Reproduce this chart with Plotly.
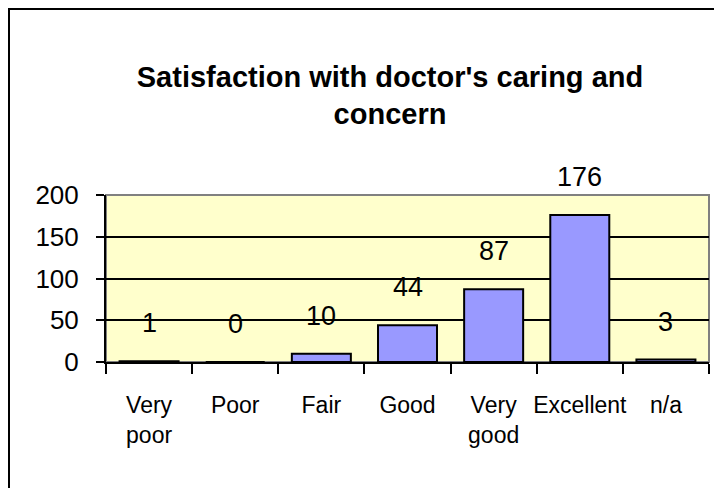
import plotly.graph_objects as go

categories = ["Very<br>poor", "Poor", "Fair", "Good", "Very<br>good", "Excellent", "n/a"]
values = [1, 0, 10, 44, 87, 176, 3]
y_ticks = [0, 50, 100, 150, 200]
title_text = "Satisfaction with doctor's caring and<br>concern"

FONT = "Liberation Sans, Arial, sans-serif"
W, H = 714, 480
L, R, T, B = 98, 13, 187, 126
PW, PH = W - L - R, H - T - B

fig = go.Figure()
fig.add_trace(go.Bar(
    x=categories, y=values,
    marker=dict(color="#9999FF", line=dict(color="black", width=2)),
    hoverinfo="x+y",
))

for c, v in zip(categories, values):
    fig.add_annotation(x=c, y=v, xref="x", yref="y", text=str(v), showarrow=False,
                       yshift=38, yanchor="middle",
                       font=dict(family=FONT, size=27, color="black"))

# outer chart border (left/top visible, right/bottom run off the canvas)
fig.add_shape(type="rect", xref="paper", yref="paper",
              x0=(0.5 - L) / PW, x1=1.2, y0=-1.0, y1=1 + (T - 0.5) / PH,
              line=dict(color="black", width=3), layer="above")
# plot area border (grey top/right)
fig.add_shape(type="rect", xref="paper", yref="paper",
              x0=0, x1=1, y0=0, y1=1,
              line=dict(color="#808080", width=2), layer="below")

fig.update_layout(
    width=W, height=H,
    margin=dict(l=L, r=R, t=T, b=B, autoexpand=False),
    paper_bgcolor="white",
    plot_bgcolor="#FFFFCC",
    showlegend=False,
    bargap=0.315,
    title=dict(text=title_text, x=(390 - 8) / W, xanchor="center", y=0.836, yanchor="middle",
               xref="container", yref="container",
               font=dict(family=FONT, size=29, color="black", weight="bold")),
    font=dict(family=FONT, color="black"),
)
fig.update_xaxes(
    type="category", automargin=False, tickangle=0,
    showline=True, linecolor="black", linewidth=2,
    ticks="outside", tickson="boundaries", ticklen=10, tickwidth=2, tickcolor="black",
    tickfont=dict(family=FONT, size=23, color="black"),
    ticklabelstandoff=21,
    showgrid=False,
)
fig.update_yaxes(
    range=[0, 200], tickvals=y_ticks, automargin=False,
    showline=True, linecolor="black", linewidth=2,
    ticks="outside", ticklen=8, tickwidth=2, tickcolor="black",
    tickfont=dict(family=FONT, size=26, color="black"),
    ticklabelstandoff=12,
    showgrid=True, gridcolor="black", gridwidth=2,
    zeroline=False,
)

fig.write_html("out.html")
